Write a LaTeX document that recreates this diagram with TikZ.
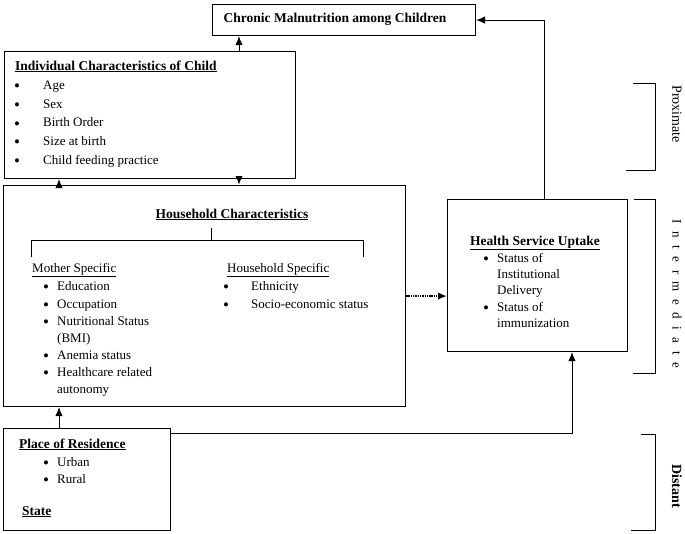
\documentclass[tikz,border=0pt]{standalone}
\usepackage{fontspec}
\setmainfont{Liberation Serif}
\usepackage{tikz}
\usetikzlibrary{arrows.meta, positioning, calc}

\newcommand{\bul}{\smash{\raisebox{-2.2pt}{\fontsize{17}{17}\selectfont\textbullet}}}

\begin{document}
\begin{tikzpicture}[
    x=1pt, y=-1pt,
    box/.style={draw, line width=1.1pt, anchor=north west, inner sep=0pt},
    item/.style={anchor=base west, inner sep=0pt, font=\fontsize{13}{15}\selectfont},
    head/.style={item, font=\fontsize{13.5}{15}\selectfont\bfseries},
    tier/.style={inner sep=0pt, rotate=-90, font=\fontsize{14}{16}\selectfont},
    arr/.style={-{Latex[length=9pt,width=7.5pt]}, line width=1pt},
    dotarr/.style={arr, dash pattern=on 1.4pt off 0.9pt, line width=2.2pt},
    brace/.style={line width=1pt}
]
\useasboundingbox (0,0) rectangle (685,533);

% Outcome
\node[box, minimum width=263pt, minimum height=31pt] (chron) at (212,4) {};
\node[head, anchor=center] (chront) at (335,19) {Chronic Malnutrition among Children};

% Individual characteristics (proximate)
\node[box, minimum width=291pt, minimum height=127pt] (indiv) at (4,51) {};
\node[head] (indivt) at (15,70) {\underline{Individual Characteristics of Child}};
\foreach \txt [count=\i] in {Age, Sex, Birth Order, Size at birth, Child feeding practice} {
    \node[item] (ib\i) at (14,{71+\i*18.6}) {\bul};
    \node[item] (it\i) at (43,{71+\i*18.6}) {\txt};
}

% Household characteristics (intermediate)
\node[box, minimum width=402pt, minimum height=221pt] (house) at (3,185) {};
\node[head, anchor=base] (houset) at (232,218) {\underline{Household Characteristics}};
\draw[brace] (31,257) -- (31,240) -- (363,240) -- (363,257);
\draw[brace] (211,240) -- (211,228);

\node[item] (mother) at (32,272) {\underline{Mother Specific}};
\node[item] (mb1) at (43,290) {\bul};
\node[item] (mt1) at (57,290) {Education};
\node[item] (mb2) at (43,308) {\bul};
\node[item] (mt2) at (57,308) {Occupation};
\node[item] (mb3) at (43,325) {\bul};
\node[item] (mt3) at (57,325) {Nutritional Status};
\node[item] (mt3b) at (57,342) {(BMI)};
\node[item] (mb4) at (43,359) {\bul};
\node[item] (mt4) at (57,359) {Anemia status};
\node[item] (mb5) at (43,376) {\bul};
\node[item] (mt5) at (57,376) {Healthcare related};
\node[item] (mt5b) at (57,393) {autonomy};

\node[item] (hhold) at (227,272) {\underline{Household Specific}};
\node[item] (hb1) at (223,290) {\bul};
\node[item] (ht1) at (251,290) {Ethnicity};
\node[item] (hb2) at (223,308) {\bul};
\node[item] (ht2) at (251,308) {Socio-economic status};

% Health service uptake
\node[box, minimum width=180pt, minimum height=152pt] (health) at (447,199) {};
\node[head, anchor=base] (healtht) at (535,245) {\underline{Health Service Uptake}};
\node[item] (sb1) at (483,262) {\bul};
\node[item] (st1) at (497,262) {Status of};
\node[item] (st1b) at (497,278) {Institutional};
\node[item] (st1c) at (497,294) {Delivery};
\node[item] (sb2) at (483,311) {\bul};
\node[item] (st2) at (497,311) {Status of};
\node[item] (st2b) at (497,327) {immunization};

% Place of residence (distant)
\node[box, minimum width=167pt, minimum height=102pt] (place) at (3,428) {};
\node[head] (placet) at (19,448) {\underline{Place of Residence}};
\node[item] (pb1) at (43,466) {\bul};
\node[item] (pt1) at (57,466) {Urban};
\node[item] (pb2) at (43,483) {\bul};
\node[item] (pt2) at (57,483) {Rural};
\node[head] (state) at (22,515) {\underline{State}};

% Connectors
\coordinate (cx) at (239,0);
\coordinate (lx) at (59,0);
\coordinate (hx) at (544,0);
\coordinate (qx) at (572,433);

\draw[arr] (cx |- indiv.north) -- (cx |- chron.south);
\draw[arr] (lx |- house.north) -- (lx |- indiv.south);
\draw[dotarr] (cx |- indiv.south) -- (cx |- house.north);
\draw[dotarr] (house.east) -- (house.east -| health.west);
\draw[arr] (hx |- health.north) |- (chron.east);
\draw[arr] (lx |- place.north) -- (lx |- house.south);
\draw[arr] (place.east |- qx) -| (qx |- health.south);

% Tiers
\draw[brace] (633,83) -- (655,83) -- (655,170) -- (626,170);
\node[tier] (prox) at (677,114) {Proximate};

\draw[brace] (634,199) -- (655,199) -- (655,373) -- (633,373);
\node[tier, font=\fontsize{13}{15}\selectfont] (inter) at (677,294) {I\hspace{7.5pt}n\hspace{7.5pt}t\hspace{7.5pt}e\hspace{7.5pt}r\hspace{7.5pt}m\hspace{7.5pt}e\hspace{7.5pt}d\hspace{7.5pt}i\hspace{7.5pt}a\hspace{7.5pt}t\hspace{7.5pt}e};

\draw[brace] (641,434) -- (655,434) -- (655,530) -- (631,530);
\node[tier, font=\fontsize{14}{16}\selectfont\bfseries] (dist) at (677,486) {Distant};

\end{tikzpicture}
\end{document}
